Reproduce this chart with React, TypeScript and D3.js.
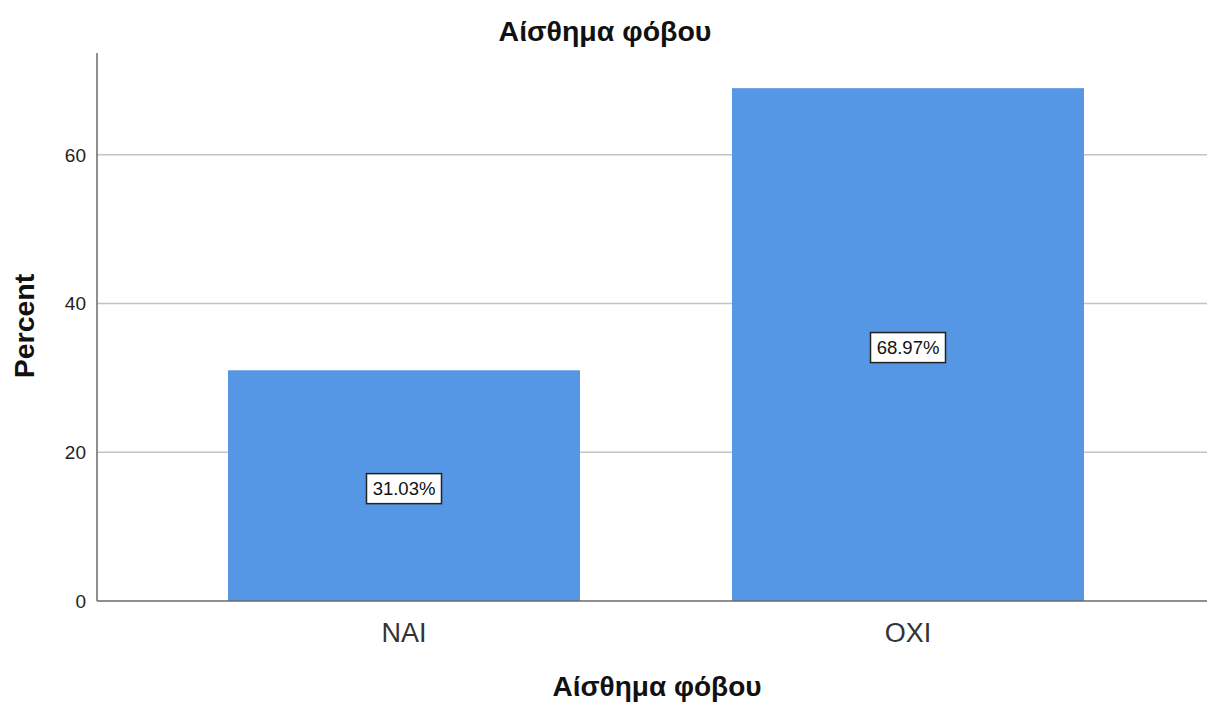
import React from "react";
import * as d3 from "d3";

const categories: string[] = ["NAI", "OXI"];
const percents: number[] = [31.03, 68.97];
const yTicks: number[] = [0, 20, 40, 60];
const chartTitle = "Αίσθημα φόβου";
const xTitle = "Αίσθημα φόβου";
const yTitle = "Percent";

export default function App() {
  const W = 1207, H = 702;
  const left = 97, right = 1207, top = 53, bottom = 601;
  const y = d3.scaleLinear().domain([0, 73.7]).range([bottom, top]);
  const x = d3.scaleBand<string>().domain(categories).range([152, 1160]).paddingInner(0.3016).paddingOuter(0.1508);
  const font = "'Liberation Sans', Arial, sans-serif";
  return (
    <svg width={W} height={H} style={{ position: "absolute", left: 0, top: 0, background: "#fff" }} fontFamily={font}>
      <rect width={W} height={H} fill="#fff" />
      {yTicks.filter(t => t > 0).map(t => (
        <line key={t} x1={left} x2={right} y1={y(t)} y2={y(t)} stroke="#c4c4c4" strokeWidth={1.5} />
      ))}
      {categories.map((c, i) => (
        <rect key={c} x={x(c)} y={y(percents[i])} width={x.bandwidth()} height={y(0) - y(percents[i])} fill="#5596e5" />
      ))}
      <line x1={left} x2={left} y1={top} y2={bottom} stroke="#6a6a6a" strokeWidth={1.5} />
      <line x1={left} x2={right} y1={bottom} y2={bottom} stroke="#6a6a6a" strokeWidth={1.5} />
      {yTicks.map(t => (
        <text key={t} x={86} y={y(t)} dy="0.35em" textAnchor="end" fontSize={19} fill="#222">{t}</text>
      ))}
      {categories.map(c => (
        <text key={c} x={(x(c) as number) + x.bandwidth() / 2} y={633} dy="0.35em" textAnchor="middle" fontSize={27} fill="#333">{c}</text>
      ))}
      {categories.map((c, i) => {
        const cx = (x(c) as number) + x.bandwidth() / 2;
        const cy = y(percents[i] / 2) + 3;
        const label = percents[i].toFixed(2) + "%";
        return (
          <g key={"l" + c}>
            <rect x={cx - 37.5} y={cy - 15} width={75} height={30} fill="#fff" stroke="#222" strokeWidth={1.5} />
            <text x={cx} y={cy} dy="0.35em" textAnchor="middle" fontSize={18.5} fill="#111">{label}</text>
          </g>
        );
      })}
      <text x={605} y={31} dy="0.35em" textAnchor="middle" fontSize={28.5} fontWeight="bold" fill="#111">{chartTitle}</text>
      <text x={657} y={686} dy="0.35em" textAnchor="middle" fontSize={28} fontWeight="bold" fill="#111">{xTitle}</text>
      <text transform={`translate(24,326) rotate(-90)`} dy="0.35em" textAnchor="middle" fontSize={28.5} fontWeight="bold" fill="#111">{yTitle}</text>
    </svg>
  );
}
